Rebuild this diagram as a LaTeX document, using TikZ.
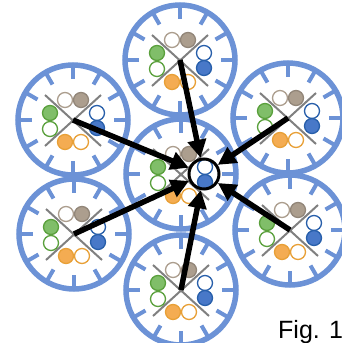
\documentclass[tikz,border=0pt]{standalone}
\usepackage{fontspec}
\setmainfont{Liberation Sans}
\usetikzlibrary{arrows.meta}

\definecolor{ringblue}{RGB}{108,146,214}
\definecolor{crossgray}{RGB}{128,128,128}
\definecolor{taupe}{RGB}{172,158,142}
\definecolor{leafgreen}{RGB}{128,190,105}
\definecolor{leafline}{RGB}{90,160,60}
\definecolor{dotblue}{RGB}{72,120,200}
\definecolor{dotline}{RGB}{40,95,170}
\definecolor{peach}{RGB}{244,172,82}
\definecolor{peachline}{RGB}{232,160,55}

\tikzset{
  dot/.style={line width=1.3pt},
  clock/.pic={
    \draw[ringblue,line width=5.5pt] (0,0) circle (55);
    \foreach \a in {0,30,...,330}
      \draw[ringblue,line width=4pt] (\a:53) -- (\a:41);
    \draw[crossgray,line width=2pt] (-28,-25) -- (28,26) (28,-25) -- (-28,26);
    \draw[dot,taupe,fill=white] (-8,-20) circle (7.5);
    \draw[dot,taupe!85!black,fill=taupe] (8,-20) circle (7.5);
    \draw[dot,leafline,fill=leafgreen] (-23,-7) circle (7.5);
    \draw[dot,leafline,fill=white] (-23,9) circle (7.5);
    \draw[dot,dotline,fill=white] (24,-7) circle (7.5);
    \draw[dot,dotline,fill=dotblue] (24,8) circle (7.5);
    \draw[dot,peachline,fill=peach] (-8,22) circle (7.5);
    \draw[dot,peachline,fill=white] (8,22) circle (7.5);
  }
}

\begin{document}
\begin{tikzpicture}[x=1pt,y=-1pt]

\useasboundingbox (0,0) rectangle (342,343);
\clip (0,0) rectangle (342,343);

\coordinate (mid) at (181,174);
\coordinate (top) at (180,60);
\coordinate (upleft) at (73,120);
\coordinate (upright) at (288,118);
\coordinate (lowleft) at (74,234);
\coordinate (lowright) at (290,230);
\coordinate (bottom) at (181,290);

\pic at (mid) {clock};
\pic at (top) {clock};
\pic at (upleft) {clock};
\pic at (upright) {clock};
\pic at (lowleft) {clock};
\pic at (lowright) {clock};
\pic at (bottom) {clock};

\node(focus)[draw,circle,line width=3pt,minimum size=30pt,inner sep=0pt] at (204,174) {};

\draw [-{Triangle[length=18pt,width=18pt]},line width=5.5pt] (top) -- (focus);
\draw [-{Triangle[length=18pt,width=18pt]},line width=5.5pt] (upleft) -- (focus);
\draw [-{Triangle[length=18pt,width=18pt]},line width=5.5pt] (upright) -- (focus);
\draw [-{Triangle[length=18pt,width=18pt]},line width=5.5pt] (lowleft) -- (focus);
\draw [-{Triangle[length=18pt,width=18pt]},line width=5.5pt] (lowright) -- (focus);
\draw [-{Triangle[length=18pt,width=18pt]},line width=5.5pt] (bottom) -- (focus);

\node(fig)[anchor=base west,inner sep=0pt,font=\fontsize{25}{30}\selectfont] at (278,338) {Fig. 1};

\end{tikzpicture}
\end{document}
